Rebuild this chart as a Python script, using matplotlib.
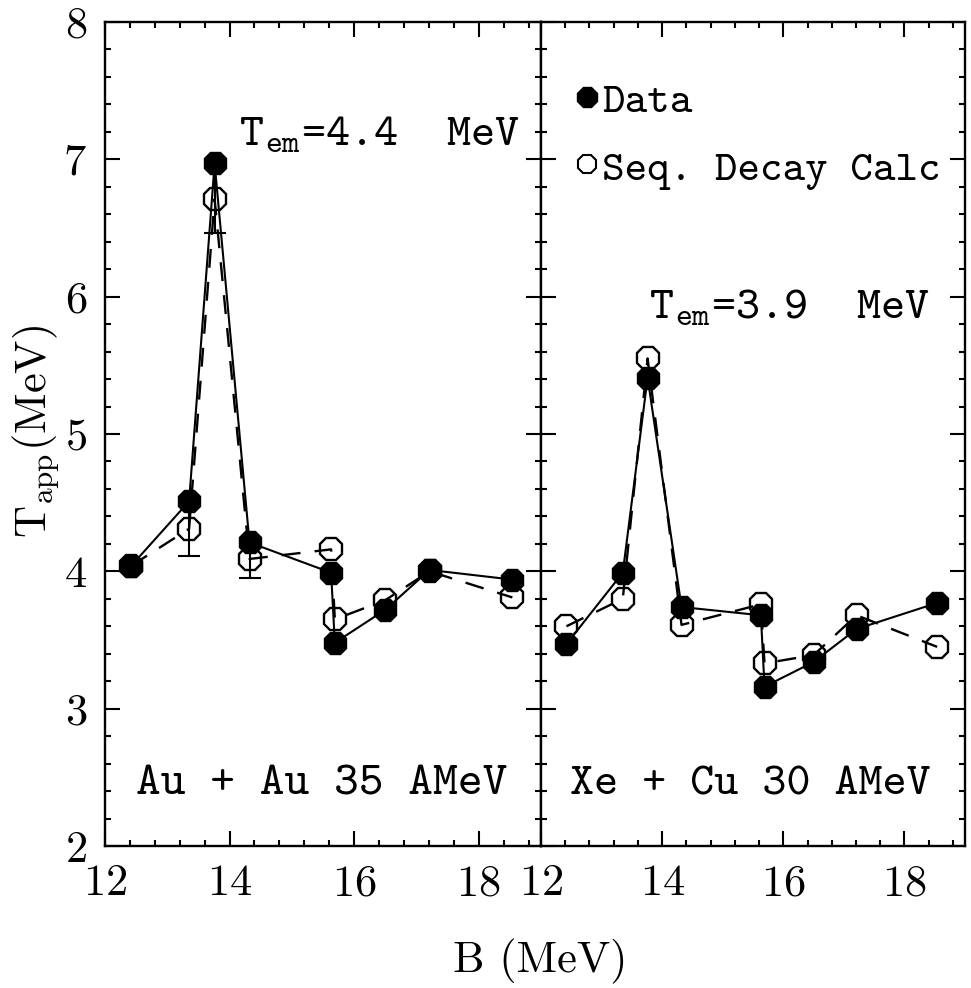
import matplotlib
matplotlib.use("Agg")
import matplotlib.pyplot as plt
from matplotlib.ticker import MultipleLocator
from matplotlib.lines import Line2D
import numpy as np

# Binding energy B (MeV) of the isotope pairs used for the thermometers
binding = [12.42, 13.35, 13.76, 14.32, 15.63, 15.69, 16.50, 17.21, 18.54]

# Au + Au at 35 AMeV: apparent temperatures (MeV)
au_data = [4.04, 4.51, 6.97, 4.21, 3.99, 3.48, 3.72, 4.01, 3.94]
au_calc = [4.04, 4.31, 6.71, 4.09, 4.16, 3.65, 3.79, 4.00, 3.81]
au_calc_err = [0.0, 0.20, 0.25, 0.14, 0.0, 0.0, 0.0, 0.0, 0.0]

# Xe + Cu at 30 AMeV: apparent temperatures (MeV)
xe_data = [3.47, 3.99, 5.41, 3.74, 3.68, 3.16, 3.34, 3.58, 3.77]
xe_calc = [3.60, 3.80, 5.55, 3.61, 3.76, 3.33, 3.39, 3.68, 3.45]

panel_labels = ["Au + Au 35 AMeV", "Xe + Cu 30 AMeV"]
temp_labels = [r"$\mathtt{T_{em}}$=4.4  MeV", r"$\mathtt{T_{em}}$=3.9  MeV"]
legend_labels = ["Data", "Seq. Decay Calc"]

plt.rcParams["font.family"] = "cmr10"
plt.rcParams["mathtext.fontset"] = "cm"
plt.rcParams["axes.formatter.use_mathtext"] = True

W, H = 971, 988
fig = plt.figure(figsize=(W / 100, H / 100), dpi=100)


def box(x0, x1, y0, y1):
    return [x0 / W, 1 - y1 / H, (x1 - x0) / W, (y1 - y0) / H]


ax1 = fig.add_axes(box(105, 541, 22, 846))
ax2 = fig.add_axes(box(541, 965, 22, 846))

TT = "cmtt10"
MS = 17


def draw_panel(ax, data, calc, err=None):
    x = np.array(binding)
    ax.plot(x, calc, color="black", lw=1.7, dashes=(8, 6), zorder=2)
    if err is not None:
        e = np.array(err)
        m = e > 0
        ax.errorbar(x[m], np.array(calc)[m], yerr=e[m], fmt="none",
                    ecolor="black", elinewidth=1.5, capsize=8,
                    capthick=1.5, zorder=2)
    ax.plot(x, calc, ls="none", marker="8", ms=MS, mfc="none",
            mec="black", mew=1.7, zorder=3)
    ax.plot(x, data, color="black", lw=1.5, marker="8", ms=MS,
            mfc="black", mec="black", zorder=4)


draw_panel(ax1, au_data, au_calc, au_calc_err)
draw_panel(ax2, xe_data, xe_calc)

for ax in (ax1, ax2):
    ax.set_xlim(12, 19)
    ax.set_ylim(2, 8)
    ax.xaxis.set_major_locator(MultipleLocator(2))
    ax.xaxis.set_minor_locator(MultipleLocator(0.4))
    ax.yaxis.set_major_locator(MultipleLocator(1))
    ax.yaxis.set_minor_locator(MultipleLocator(0.2))
    ax.tick_params(which="both", direction="in", top=True, right=True,
                   width=1.5, labelsize=32, colors="black")
    ax.tick_params(which="major", length=10.5, pad=13)
    ax.tick_params(which="minor", length=4.5)
    for s in ax.spines.values():
        s.set_linewidth(1.7)

ax2.tick_params(labelleft=False)

ax1.text(0.07, 0.062, panel_labels[0], transform=ax1.transAxes,
         family=TT, fontsize=34, ha="left", va="baseline")
ax2.text(0.068, 0.062, panel_labels[1], transform=ax2.transAxes,
         family=TT, fontsize=33, ha="left", va="baseline")

ax1.text(0.950, 0.850, temp_labels[0], transform=ax1.transAxes,
         family=TT, fontsize=33, ha="right", va="baseline")
ax2.text(0.915, 0.640, temp_labels[1], transform=ax2.transAxes,
         family=TT, fontsize=33, ha="right", va="baseline")

handles = [
    Line2D([], [], ls="none", marker="8", ms=16, mfc="black", mec="black"),
    Line2D([], [], ls="none", marker="8", ms=14, mfc="none", mec="black", mew=1.5),
]
ax2.legend(handles, legend_labels, loc="upper left",
           bbox_to_anchor=(0.083, 0.927), frameon=False,
           prop={"family": TT, "size": 31}, handlelength=0.5,
           handletextpad=0.1, labelspacing=0.63, borderaxespad=0,
           borderpad=0)

fig.text(36 / W, 0.563, r"$\mathrm{T_{app}}$(MeV)", rotation=90,
         fontsize=32, ha="center", va="center")
fig.text(540 / W, 1 - 972 / H, "B (MeV)", fontsize=32, ha="center",
         va="baseline")

fig.savefig("out.png", dpi=100)
